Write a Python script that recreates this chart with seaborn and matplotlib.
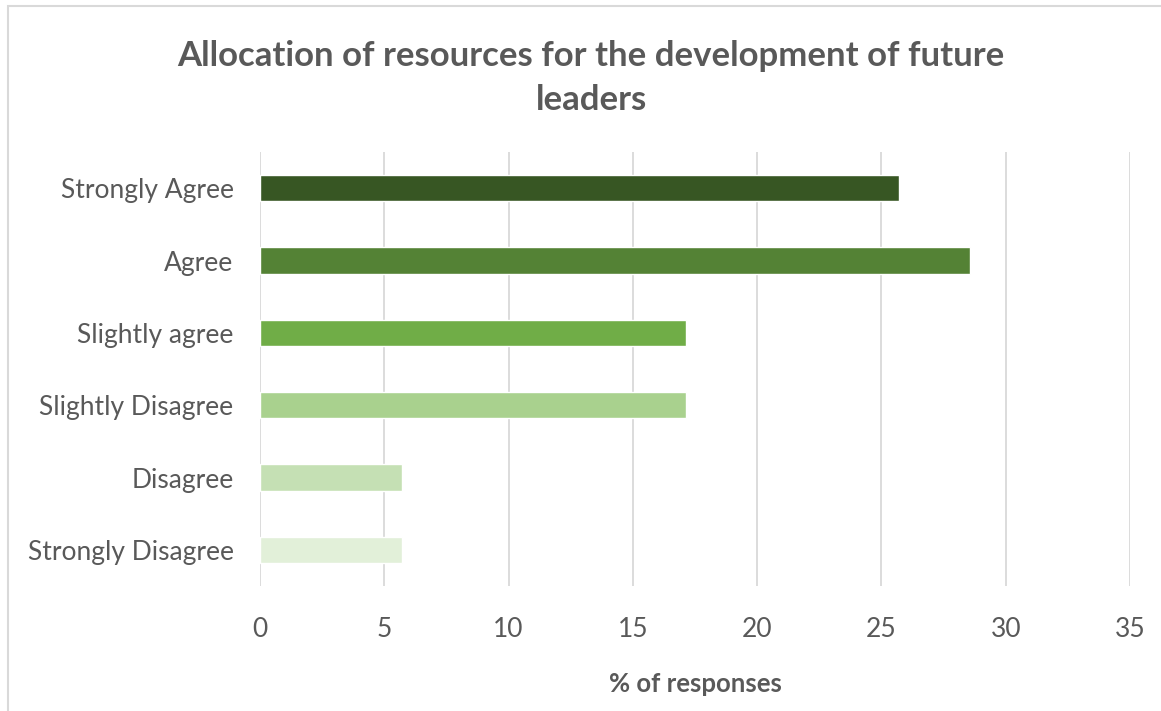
import matplotlib
matplotlib.use("Agg")
import matplotlib.pyplot as plt
import seaborn as sns
import pandas as pd
from matplotlib.patches import Rectangle

# Survey responses (% of respondents)
categories = ["Strongly Agree", "Agree", "Slightly agree",
              "Slightly Disagree", "Disagree", "Strongly Disagree"]
values = [25.71, 28.57, 17.14, 17.14, 5.71, 5.71]
colors = ["#375623", "#548235", "#70AD47", "#A9D18E", "#C5E0B4", "#E2F0D9"]
x_ticks = [0, 5, 10, 15, 20, 25, 30, 35]

title = "Allocation of resources for the development of future\nleaders"
x_label = "% of responses"

sns.set_theme(style="white")
plt.rcParams["font.family"] = ["Lato", "DejaVu Sans"]

text_color = "#595959"
grid_color = "#D9D9D9"

df = pd.DataFrame({"category": categories, "value": values})

fig = plt.figure(figsize=(11.61, 7.11), dpi=100)
ax = fig.add_axes([260 / 1161, 1 - 586 / 711, 870 / 1161, 434 / 711])

sns.barplot(data=df, x="value", y="category", hue="category",
            palette=colors, order=categories, hue_order=categories,
            width=0.36, legend=False, ax=ax, saturation=1)

ax.set_xlim(0, 35)
ax.set_ylim(5.5, -0.5)
ax.set_xticks(x_ticks)
ax.set_xticklabels([str(t) for t in x_ticks])
ax.xaxis.grid(True, color=grid_color, linewidth=1.3)
ax.set_axisbelow(True)
for s in ax.spines.values():
    s.set_visible(False)

ax.tick_params(axis="y", length=0, pad=19, labelsize=19, labelcolor=text_color)
ax.tick_params(axis="x", length=0, pad=22, labelsize=19, labelcolor=text_color)
ax.set_ylabel("")
ax.set_xlabel(x_label, fontsize=18.5, fontweight="bold", color=text_color, labelpad=22)

fig.text(591 / 1161, 1 - 78 / 711, title, ha="center", va="center",
         fontsize=25, fontweight="bold", color=text_color, linespacing=1.5)

# chart frame
fig.patches.append(Rectangle((8 / 1161, -0.1), 1.2, 1 - 6 / 711 + 0.1,
                             transform=fig.transFigure, fill=False,
                             edgecolor="#D9D9D9", linewidth=1.5))

fig.savefig("out.png", dpi=100, facecolor="white")
